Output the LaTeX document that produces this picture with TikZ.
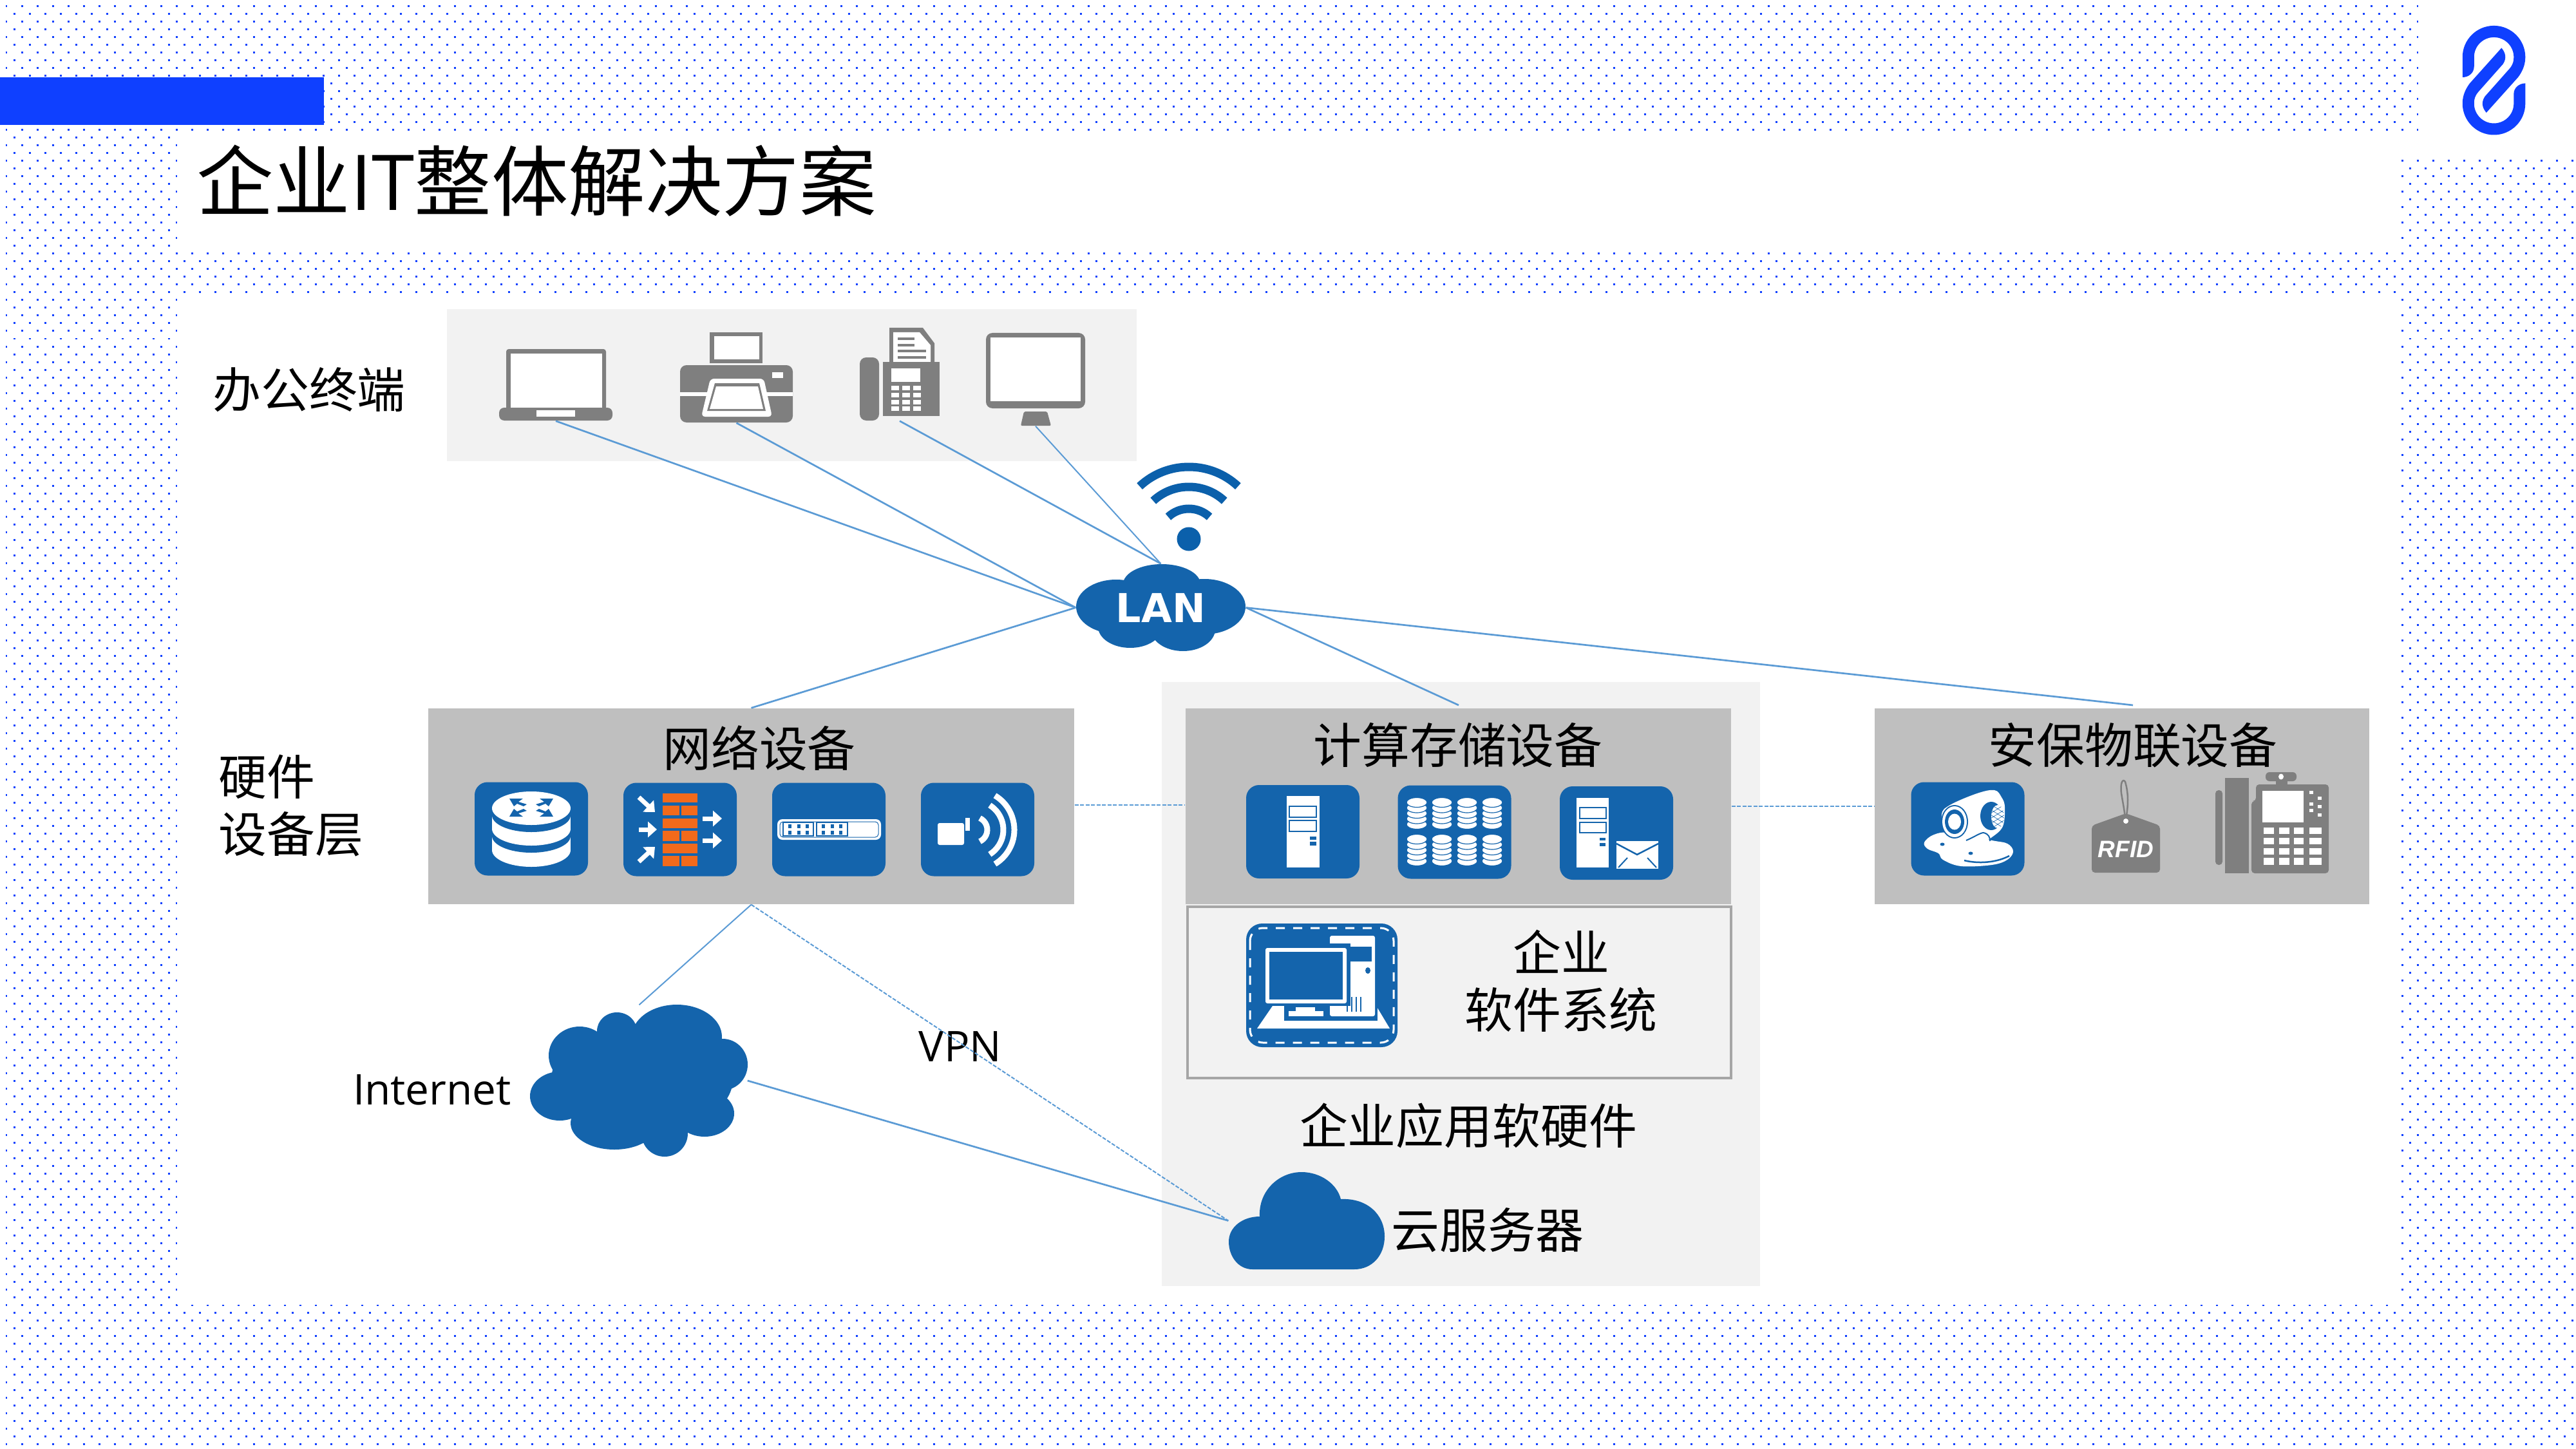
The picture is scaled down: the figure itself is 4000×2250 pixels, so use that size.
\documentclass[tikz,border=0pt]{standalone}
\usepackage{fontspec}
\setmainfont{Open Sans}
\newfontfamily\cjk{Noto Sans CJK SC}
\newfontfamily\lanfont{DejaVu Sans}
\newfontfamily\rfidfont{Liberation Sans}
\usetikzlibrary{arrows.meta,fit,positioning}
\definecolor{dotblue}{HTML}{0F40FF}
\definecolor{tileblue}{HTML}{1464AC}
\definecolor{wifiblue}{HTML}{0B60AB}
\definecolor{linkblue}{HTML}{5B9BD5}
\definecolor{icongrey}{HTML}{7F7F7F}
\definecolor{panelgrey}{HTML}{BFBFBF}
\definecolor{palegrey}{HTML}{F2F2F2}
\definecolor{brick}{HTML}{F26A1B}
\tikzset{
  dotrow/.style={dotblue,line width=0.3mm,dash pattern=on 0.3mm off 2.1mm},
  panel/.style={fill=panelgrey,inner sep=0pt},
  palepanel/.style={fill=palegrey,inner sep=0pt},
  port/.style={inner sep=0pt},
  tile/.style={fill=tileblue,rounded corners=2mm,minimum width=17.6mm,minimum height=14.5mm,inner sep=0pt},
  label/.style={font=\cjk\fontsize{21.3}{25.2}\selectfont,inner sep=0pt,text=black},
  latinlabel/.style={font=\fontsize{18.7}{22}\selectfont,inner sep=0pt,text=black},
  link/.style={linkblue,line width=0.27mm},
  thinlink/.style={linkblue,line width=0.2mm},
  dashlink/.style={linkblue,line width=0.2mm,dash pattern=on 0.6mm off 0.25mm},
  whitearrow/.style={white,line width=0.7mm,-{Triangle[length=1.4mm,width=2.4mm]}},
  disc/.style={fill=white,draw=tileblue,line width=0.12mm},
}
\begin{document}
\begin{tikzpicture}[x=0.1mm,y=-0.1mm]
  \useasboundingbox (0,0) rectangle (4000,2250);
  \fill[white] (0,0) rectangle (4000,2250);

  % dotted background
  \foreach \r [evaluate=\r as \y using 10+24*\r] in {0,...,93} {
    \draw[dotrow] (8.5,\y) -- (4000,\y);
    \draw[dotrow] (20.5,\y+12) -- (4000,\y+12);
  }
  \fill[white] (275,208) rectangle (3727,388);
  \fill[white] (275,460) rectangle (3727,2026);
  \fill[white] (3755,0) rectangle (4000,240);
  \fill[white] (3727,208) rectangle (3755,240);
  \fill[dotblue] (0,120) rectangle (503,194);

  % logo
  \foreach \a in {0,180} {
    \fill[dotblue,rotate around={\a:(3872.5,124.7)}] (3823.7,120) -- (3823.7,88.7)
      arc[start angle=180,end angle=360,radius=48.8]
      .. controls (3921.3,101.7) and (3916,112) .. (3910,120) -- (3860.7,175)
      .. controls (3855,168) and (3852,160) .. (3858.3,150) -- (3896.7,106.7)
      .. controls (3902.3,100) and (3903.3,95) .. (3903.3,88.7)
      arc[start angle=360,end angle=180,radius=30.8]
      -- (3841.7,103.3) .. controls (3841.7,113.3) and (3833.3,120) .. (3823.7,120) -- cycle;
  }

  % title
  \node[inner sep=0pt,font=\cjk\fontsize{34}{40}\selectfont] (title) at (833,281)
    {企业{\setmainfont{Open Sans}\normalfont IT}整体解决方案};

  % panels
  \node[palepanel,fit={(694,480) (1765,716)}] (officepanel) {};
  \node[palepanel,fit={(1804,1059) (2733,1997)}] (apppanel) {};
  \node[panel,fit={(665,1100) (1668,1404)}] (netpanel) {};
  \node[panel,fit={(1841,1100) (2688,1404)}] (calcpanel) {};
  \node[panel,fit={(2911,1100) (3679,1404)}] (secpanel) {};
  \node[fit={(1844,1408) (2688,1674)},inner sep=0pt,draw=black!35,line width=0.35mm] (softbox) {};

  % labels
  \node[label] (officelabel) at (480,605) {办公终端};
  \node[label,align=left,anchor=west] (hwlabel) at (339,1251) {硬件\\设备层};
  \node[label] (netlabel) at (1179,1162) {网络设备};
  \node[label] (calclabel) at (2264,1157) {计算存储设备};
  \node[label] (seclabel) at (3312,1157) {安保物联设备};
  \node[label,align=center] (softlabel) at (2424,1523) {企业\\软件系统};
  \node[label] (applabel) at (2280,1748) {企业应用软硬件};
  \node[label] (srvlabel) at (2310,1910) {云服务器};
  \node[latinlabel] (inetlabel) at (671,1692) {Internet};
  \node[latinlabel] (vpnlabel) at (1491,1625) {VPN};

  % office icons
  \node[port,fit={(775,542) (951,653)}] (laptop) {};
  \fill[icongrey,rounded corners=0.4mm] (786,640) -- (786,542) -- (941,542) -- (941,640) -- cycle;
  \fill[white] (793,549) rectangle (935,633);
  \fill[icongrey,rounded corners=0.8mm] (775,633) rectangle (951,653);
  \fill[white] (833,637) rectangle (893,647);

  \node[port,fit={(1056,516) (1231,656)}] (printer) {};
  \fill[icongrey] (1102,516) rectangle (1184,564);
  \fill[white] (1109,522) rectangle (1179,558);
  \fill[icongrey,rounded corners=1mm] (1056,567) rectangle (1231,656);
  \fill[white] (1056,609) rectangle (1231,615);
  \fill[white] (1199,578) rectangle (1216,587);
  \fill[white,rounded corners=0.6mm] (1103,588) -- (1186,588) -- (1199,647) -- (1089,647) -- cycle;
  \fill[icongrey] (1110,595) -- (1179,595) -- (1189,638) -- (1098,638) -- cycle;
  \fill[white] (1112,600) -- (1177,600) -- (1185,635) -- (1102,635) -- cycle;

  \node[port,fit={(1335,509) (1459,653)}] (fax) {};
  \fill[icongrey,rounded corners=1mm] (1335,555) rectangle (1365,653);
  \fill[icongrey] (1381,562) -- (1381,509) -- (1433,509) -- (1451,533) -- (1451,562) -- cycle;
  \fill[white] (1387,562) -- (1387,516) -- (1428,516) -- (1445,536) -- (1445,562) -- cycle;
  \foreach \y/\e in {526/1420,536/1420,545/1438,555/1438}
    \fill[icongrey] (1394,\y-2) rectangle (\e,\y+2);
  \fill[icongrey] (1371,562) rectangle (1459,646);
  \fill[white] (1384,572) rectangle (1429,593);
  \foreach \y in {599,610,621,631}
    \foreach \x in {1384,1401,1418}
      \fill[white] (\x,\y) rectangle (\x+12,\y+7);

  \node[port,fit={(1531,517) (1685,661)}] (screen) {};
  \fill[icongrey,rounded corners=1mm] (1531,517) rectangle (1685,634);
  \fill[white] (1538,524) rectangle (1678,623);
  \fill[icongrey,rounded corners=0.2mm] (1590,639) -- (1626,639) -- (1632,661) -- (1585,661) -- cycle;

  % wifi
  \fill[wifiblue] (1846,837) circle[radius=18.5];
  \foreach \rad in {112,81,47}
    \draw[wifiblue,line width=1.3mm] (1846,837) ++(-133:\rad) arc[start angle=-133,end angle=-47,radius=\rad];

  % LAN cloud
  \fill[tileblue] (1804,907) ellipse[x radius=60,y radius=31];
  \fill[tileblue] (1733,942) ellipse[x radius=62,y radius=42];
  \fill[tileblue] (1870,942) ellipse[x radius=64,y radius=43];
  \fill[tileblue] (1755,973) ellipse[x radius=50,y radius=33];
  \fill[tileblue] (1837,977) ellipse[x radius=50,y radius=34];
  \fill[tileblue] (1800,942) ellipse[x radius=80,y radius=40];
  \node[minimum width=26.3mm,minimum height=13.5mm,inner sep=0pt,text=white,font=\lanfont\bfseries\fontsize{17.6}{20}\selectfont] (lan) at (1802.5,943.5) {LAN};

  % internet cloud
  \foreach \cx/\cy/\rx/\ry in {1051/1610/70/50,958/1601/31/29,900/1639/48/45,869/1702/46/38,954/1744/68/41,1032/1760/36/36,1094/1729/46/36,1122/1653/39/40,997/1676/141/84}
    \fill[tileblue] (\cx,\cy) ellipse[x radius=\rx,y radius=\ry];
  \node[port,fit={(825,1561) (1160,1795)}] (inetcloud) {};

  % server cloud
  \fill[tileblue] (1945,1971) .. controls (1922,1971) and (1908,1950) .. (1908,1928)
    .. controls (1908,1905) and (1930,1889) .. (1956,1889)
    .. controls (1954,1850) and (1985,1820) .. (2021,1820)
    .. controls (2050,1820) and (2076,1838) .. (2082,1862)
    .. controls (2122,1860) and (2150,1885) .. (2150,1920)
    .. controls (2150,1950) and (2130,1971) .. (2103,1971) -- cycle;
  \node[port,fit={(1908,1820) (2150,1971)}] (srvcloud) {};

  % network tiles
  \node[tile] (router) at (825,1287) {};
  \fill[white] (764,1298) rectangle (886,1320);
  \fill[white] (825,1320) ellipse[x radius=61,y radius=26];
  \fill[tileblue] (825,1298) ellipse[x radius=61,y radius=26];
  \fill[white] (764,1266) rectangle (886,1287);
  \fill[white] (825,1287) ellipse[x radius=61,y radius=26];
  \fill[tileblue] (825,1266) ellipse[x radius=61,y radius=26];
  \fill[white] (825,1255) ellipse[x radius=61,y radius=26];
  \foreach \dx/\dy in {-1/-1,1/-1,-1/1,1/1}
    \fill[tileblue] (825+\dx*34,1254+\dy*14) -- (825+\dx*13,1254+\dy*14) -- (825+\dx*20,1254+\dy*9)
      -- (825+\dx*7,1254+\dy*5) -- (825+\dx*12,1254+\dy*2) -- (825+\dx*22,1254+\dy*6) -- (825+\dx*27,1254+\dy*2) -- cycle;

  \node[tile] (firewall) at (1056,1288) {};
  \foreach \ya/\yb in {1232/1246,1271/1286,1310/1325}
    \fill[brick] (1029,\ya) rectangle (1083,\yb);
  \foreach \ya/\yb in {1251/1266,1290/1306,1329/1345} {
    \fill[brick] (1029,\ya) rectangle (1055,\yb);
    \fill[brick] (1058,\ya) rectangle (1083,\yb);
  }
  \draw[whitearrow] (992,1288) -- (1020,1288);
  \draw[whitearrow] (992,1238) -- (1017,1261);
  \draw[whitearrow] (992,1338) -- (1017,1315);
  \draw[whitearrow] (1091,1271) -- (1121,1271);
  \draw[whitearrow] (1091,1305) -- (1121,1305);

  \node[tile] (switch) at (1287,1288) {};
  \fill[white,rounded corners=0.8mm] (1207,1272) rectangle (1368,1304);
  \draw[tileblue,line width=0.1mm,rounded corners=0.5mm] (1211,1276) rectangle (1364,1300);
  \draw[tileblue,line width=0.15mm] (1216,1277) rectangle (1263,1298);
  \draw[tileblue,line width=0.15mm] (1268,1277) rectangle (1316,1298);
  \foreach \x in {1226,1240,1253,1278,1292,1305}
    \foreach \y in {1280,1290}
      \fill[tileblue] (\x-2.5,\y) rectangle (\x+2.5,\y+6);

  \node[tile] (radio) at (1518,1288) {};
  \fill[white,rounded corners=0.3mm] (1456,1278) rectangle (1497,1312);
  \fill[white] (1499,1270) rectangle (1506,1290);
  \foreach \rad/\ang in {20/65,45/58,62/59}
    \draw[white,line width=0.9mm] (1513,1288.5) ++(-\ang:\rad) arc[start angle=-\ang,end angle=\ang,radius=\rad];

  % compute tiles
  \node[tile] (server) at (2023,1291.5) {};
  \fill[white] (1998,1236) rectangle (2049,1347);
  \foreach \ya/\yb in {1252/1269,1274/1291}
    \draw[tileblue,line width=0.25mm] (2002,\ya) rectangle (2044,\yb);
  \foreach \ya/\yb in {1299/1304,1307/1313}
    \fill[tileblue] (2034,\ya) rectangle (2044,\yb);

  \node[tile] (storage) at (2258.5,1292) {};
  \foreach \cx in {2200,2239,2278,2317}
    \foreach \cy in {1246,1303}
      \foreach \k in {4,3,2,1,0}
        \filldraw[disc] (\cx,\cy+\k*8.5) ellipse[x radius=16,y radius=7.5];

  \node[tile] (mailsrv) at (2510,1293.5) {};
  \fill[white] (2448,1239) rectangle (2498,1347);
  \foreach \ya/\yb in {1254/1271,1277/1293}
    \draw[tileblue,line width=0.25mm] (2453,\ya) rectangle (2494,\yb);
  \foreach \ya/\yb in {1301/1305,1309/1314}
    \fill[tileblue] (2484,\ya) rectangle (2493,\yb);
  \fill[white] (2510,1306) rectangle (2575,1349);
  \draw[tileblue,line width=0.25mm] (2510,1310) -- (2542,1327) -- (2575,1310);
  \draw[tileblue,line width=0.2mm] (2513,1347) -- (2527,1332);
  \draw[tileblue,line width=0.2mm] (2572,1347) -- (2558,1332);

  % security tiles
  \node[tile] (camera) at (3055.5,1287) {};
  \fill[white] plot[smooth cycle,tension=0.6] coordinates {(2988,1308) (3003,1296) (3030,1293) (3093,1305) (3117,1310) (3126,1322) (3117,1335) (3093,1343) (3045,1345) (3017,1335) (3010,1325) (2993,1318)};
  \draw[tileblue,line width=0.25mm] (3050,1336) .. controls (3065,1340) and (3095,1342) .. (3120,1329);
  \fill[white] plot[smooth cycle,tension=0.6] coordinates {(3015,1265) (3028,1250) (3070,1232) (3097,1227) (3108,1238) (3113,1253) (3110,1283) (3093,1300) (3077,1308) (3050,1307) (3023,1297)};
  \draw[tileblue,line width=0.2mm] (3053,1305) .. controls (3065,1300) and (3075,1293) .. (3080,1293) .. controls (3088,1295) and (3090,1300) .. (3090,1306);
  \fill[tileblue] (3092,1267) ellipse[x radius=17,y radius=22];
  \begin{scope}
    \clip (3102,1268) ellipse[x radius=10,y radius=18];
    \fill[white] (3090,1248) rectangle (3114,1288);
    \foreach \k in {0,...,6} {
      \draw[tileblue,line width=0.06mm] (3086,1238+\k*8) -- (3118,1258+\k*8);
      \draw[tileblue,line width=0.06mm] (3086,1258+\k*8) -- (3118,1238+\k*8);
    }
  \end{scope}
  \fill[tileblue] (3035,1276) ellipse[x radius=21,y radius=26];
  \fill[white] (3035,1276) ellipse[x radius=19,y radius=24];
  \fill[tileblue] (3035,1276) ellipse[x radius=15,y radius=19];
  \fill[white] (3035,1276) ellipse[x radius=10,y radius=12.5];
  \fill[tileblue] (3016,1311) ellipse[x radius=3.5,y radius=2.5];
  \fill[tileblue] (3060,1325) ellipse[x radius=3.5,y radius=2.5];

  \node[port,fit={(3248,1212) (3354,1355)}] (rfidtag) {};
  \draw[icongrey,line width=0.25mm] (3301,1272) .. controls (3306,1245) and (3304,1228) .. (3300,1214)
    .. controls (3296,1208) and (3292,1216) .. (3294,1232) .. controls (3296,1245) and (3299,1258) .. (3300,1272);
  \fill[icongrey,rounded corners=0.5mm] (3248,1355) -- (3248,1282) -- (3301,1263) -- (3354,1282) -- (3354,1355) -- cycle;
  \fill[white] (3301,1275) circle[radius=4];
  \node[inner sep=0pt,text=white,font=\rfidfont\bfseries\itshape\fontsize{10.5}{12}\selectfont] (rfid) at (3301,1319) {RFID};

  \node[port,fit={(3440,1199) (3616,1356)}] (ipphone) {};
  \fill[icongrey,rounded corners=0.5mm] (3440,1227) rectangle (3451,1343);
  \fill[icongrey] (3455,1208) rectangle (3492,1356);
  \fill[icongrey,rounded corners=0.5mm] (3496,1356) -- (3496,1244) -- (3503,1244) -- (3503,1218) -- (3616,1218) -- (3616,1356) -- cycle;
  \fill[icongrey] (3534,1210) rectangle (3552,1220);
  \fill[icongrey,rounded corners=0.6mm] (3518,1199) rectangle (3566,1213);
  \fill[white] (3542,1206) ellipse[x radius=4,y radius=4.5];
  \fill[white] (3513,1228) rectangle (3577,1277);
  \foreach \ya/\yb in {1285/1295,1301/1311,1317/1327,1332/1343}
    \foreach \xa/\xb in {3515/3531,3539/3555,3562/3577,3586/3605}
      \fill[white] (\xa,\ya) rectangle (\xb,\yb);
  \foreach \xa/\ya in {3586/1228,3599/1237,3586/1246,3599/1250,3586/1256,3599/1263}
    \fill[white] (\xa,\ya) rectangle (\xa+6,\ya+5);

  % software tile
  \node[tile,minimum width=23.5mm,minimum height=19.2mm,rounded corners=2.5mm] (desktop) at (2052.5,1530) {};
  \draw[white,line width=0.3mm,dash pattern=on 1.4mm off 1.3mm,rounded corners=2mm] (1941,1441) rectangle (2164,1619);
  \fill[white] (1976,1562) -- (1952,1597) -- (2158,1597) -- (2137,1562) -- cycle;
  \fill[tileblue] (1994,1556) rectangle (2139,1585);
  \fill[white,rounded corners=0.3mm] (2065,1453) -- (2135,1453) -- (2135,1578) -- (2065,1578) -- cycle;
  \fill[tileblue] (2097,1470) rectangle (2130,1493);
  \fill[tileblue] (2124,1507) ellipse[x radius=4,y radius=5];
  \foreach \x in {2091,2098,2105,2112}
    \fill[tileblue] (\x,1548) rectangle (\x+2,1571);
  \fill[tileblue] (2060,1465) rectangle (2097,1562);
  \fill[white,rounded corners=0.3mm] (1965,1472) rectangle (2091,1558);
  \fill[tileblue] (1971,1478) rectangle (2085,1552);
  \fill[white] (2001,1570) rectangle (2055,1578);
  \fill[white] (2012,1564) rectangle (2042,1570);

  % connectors
  \draw[link] (laptop.south) -- (lan.west);
  \draw[link] (printer.south) -- (lan.west);
  \draw[link] (fax.south) -- (lan.north);
  \draw[thinlink] (screen.south) -- (lan.north);
  \draw[link] (netpanel.north) -- (lan.west);
  \coordinate (calctop) at (2265,1095);
  \coordinate (sectop) at (3312,1095);
  \draw[link] (lan.east) -- (calctop);
  \draw[link] (lan.east) -- (sectop);
  \draw[dashlink] (netpanel.east |- 0,1250) -- (calcpanel.west |- 0,1250);
  \draw[dashlink] (calcpanel.east |- 0,1252) -- (secpanel.west |- 0,1252);
  \draw[thinlink] (netpanel.south) -- (inetcloud.north);
  \draw[dashlink] (netpanel.south) -- (srvcloud.west);
  \draw[link] (inetcloud.east) -- (srvcloud.west);
\end{tikzpicture}
\end{document}
